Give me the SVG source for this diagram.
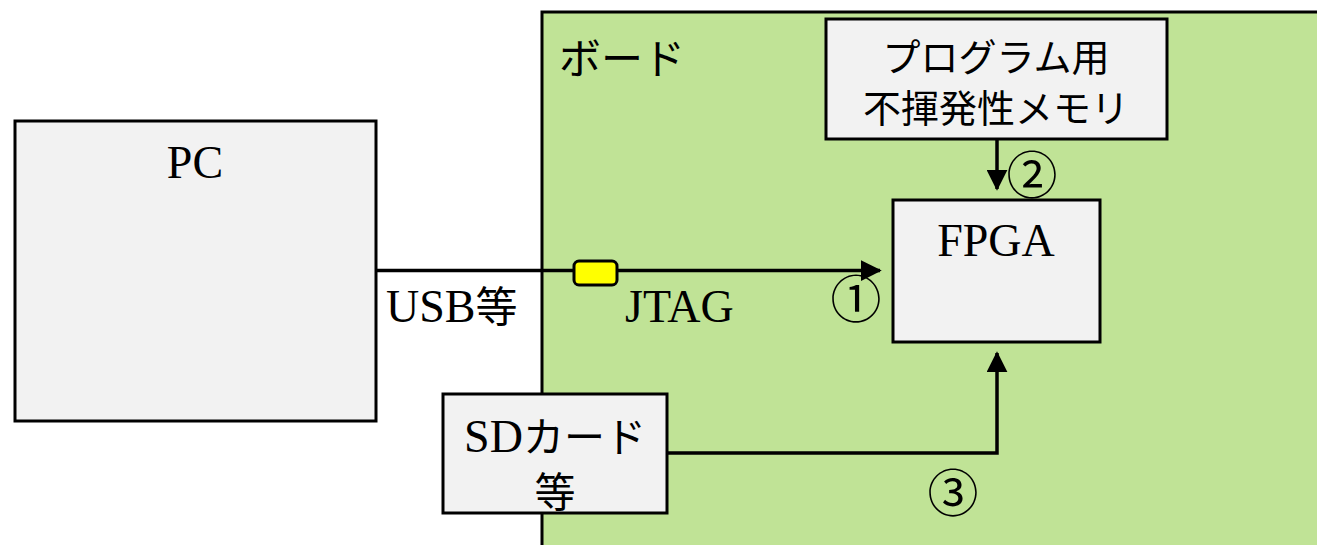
<svg xmlns="http://www.w3.org/2000/svg" width="1317" height="545" viewBox="0 0 1317 545">
<style>
.box{fill:#F2F2F2;stroke:#000;stroke-width:3}
.board{fill:#C0E396;stroke:#000;stroke-width:3}
.serif{font-family:"Liberation Serif","Noto Sans CJK JP",serif;font-size:46px;fill:#000}
.sans{font-family:"Noto Sans CJK JP","Noto Sans",sans-serif;font-size:38px;fill:#000}
.num{font-family:"Noto Sans CJK JP",sans-serif;font-size:51px;fill:#000}
.line{fill:none;stroke:#000;stroke-width:3.5}
</style>
<defs>
<marker id="arr" markerWidth="6" markerHeight="6" refX="5.5" refY="3" orient="auto" markerUnits="strokeWidth">
<path d="M0,0 L6,3 L0,6 z" fill="#000"/>
</marker>
</defs>
<rect width="1317" height="545" fill="#fff"/>
<g id="board">
<rect class="board" x="542" y="12" width="790" height="550"/>
<text class="sans" x="559" y="74" style="font-size:42px">ボード</text>
</g>
<g id="pc">
<rect class="box" x="15" y="121" width="361" height="300"/>
<text class="serif" x="195" y="178" text-anchor="middle">PC</text>
</g>
<g id="memory">
<rect class="box" x="826" y="19" width="341" height="120"/>
<text class="sans" x="996" y="71" text-anchor="middle">プログラム用</text>
<text class="sans" x="996" y="122" text-anchor="middle">不揮発性メモリ</text>
</g>
<g id="fpga">
<rect class="box" x="893" y="200" width="207" height="142"/>
<text class="serif" x="996" y="256" text-anchor="middle">FPGA</text>
</g>
<g id="sdcard">
<rect class="box" x="443" y="394" width="224" height="119"/>
<text class="serif" x="555" y="452" text-anchor="middle">SD<tspan class="sans" style="font-size:41px">カード</tspan></text>
<text class="sans" x="555" y="507" text-anchor="middle" style="font-size:41px">等</text>
</g>
<g id="connectors">
<path class="line" d="M376,270.5 L880,270.5" marker-end="url(#arr)"/>
<path class="line" d="M997,139 L997,189" marker-end="url(#arr)"/>
<path class="line" d="M667,453 L997,453 L997,353" marker-end="url(#arr)"/>
</g>
<g id="jtag-connector">
<rect x="574" y="261" width="43" height="24" rx="5" fill="#FFFF00" stroke="#000" stroke-width="3"/>
</g>
<g id="labels">
<text class="serif" x="386" y="322">USB<tspan class="sans" style="font-size:42px">等</tspan></text>
<text class="serif" x="625" y="322">JTAG</text>
<text class="num" x="856" y="318" text-anchor="middle">①</text>
<text class="num" x="1032" y="194" text-anchor="middle">②</text>
<text class="num" x="953" y="512" text-anchor="middle">③</text>
</g>
</svg>
